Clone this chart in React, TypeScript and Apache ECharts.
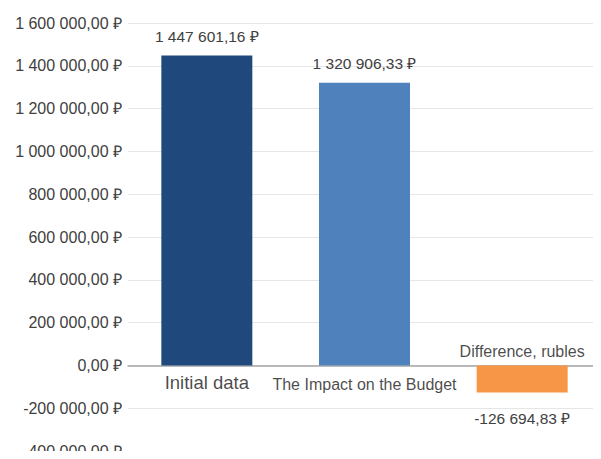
import React, { useEffect, useRef } from "react";
import * as echarts from "echarts";

const categories = ["Initial data", "The Impact on the Budget", "Difference, rubles"];
const values = [1447601.16, 1320906.33, -126694.83];
const barColors = ["#1F497D", "#4F81BD", "#F79646"];
const yTicks = { min: -400000, max: 1600000, interval: 200000 };

function fmt(v: number): string {
  const neg = v < 0;
  const abs = Math.abs(v);
  const [intPart, dec] = abs.toFixed(2).split(".");
  const grouped = intPart.replace(/\B(?=(\d{3})+(?!\d))/g, " ");
  return (neg ? "-" : "") + grouped + "," + dec + " ₽";
}

const FONT = "'Liberation Sans', Arial, sans-serif";

export default function App() {
  const ref = useRef<HTMLDivElement>(null);
  useEffect(() => {
    if (!ref.current) return;
    const chart = echarts.init(ref.current, null, { renderer: "svg" });
    chart.setOption({
      animation: false,
      backgroundColor: "#ffffff",
      grid: { left: 128, right: -3, top: 23, bottom: 7, containLabel: false },
      xAxis: {
        type: "category",
        data: categories,
        axisLine: { onZero: true, lineStyle: { color: "#A6A6A6", width: 1.5 } },
        axisTick: { show: false },
        axisLabel: { show: false },
        splitLine: { show: false },
      },
      yAxis: {
        type: "value",
        min: yTicks.min,
        max: yTicks.max,
        interval: yTicks.interval,
        axisLine: { show: false },
        axisTick: { show: false },
        splitLine: { lineStyle: { color: "#E6E6E6", width: 1 } },
        axisLabel: {
          formatter: (v: number) => fmt(v),
          fontFamily: FONT,
          fontSize: 16,
          color: "#404040",
          margin: 6,
        },
      },
      series: [
        {
          type: "bar",
          barWidth: 91,
          data: values.map((v, i) => ({
            value: v,
            itemStyle: { color: barColors[i] },
            label: {
              show: true,
              position: v >= 0 ? "top" : "bottom",
              distance: v >= 0 ? 11 : 18,
              formatter: () => fmt(v),
              fontFamily: FONT,
              fontSize: 15.5,
              color: "#404040",
            },
          })),
        },
        {
          type: "scatter",
          symbolSize: 0,
          silent: true,
          data: values.map((v, i) => ({
            value: 0,
            label: {
              show: true,
              position: v >= 0 ? "bottom" : "top",
              distance: v >= 0 ? (i === 0 ? 8 : 11) : 6,
              formatter: () => categories[i],
              fontFamily: FONT,
              fontSize: i === 0 ? 18.5 : 16,
              color: "#1a1a1a",
            },
          })),
        },
      ],
    });
    return () => chart.dispose();
  }, []);
  return <div ref={ref} style={{ width: 601, height: 459, margin: -8 }} />;
}
